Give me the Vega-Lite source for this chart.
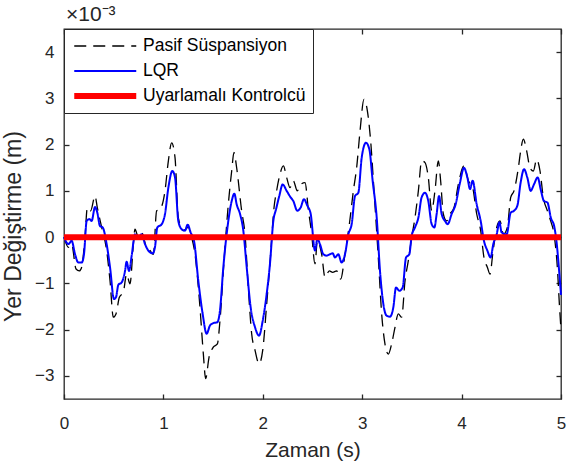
{
  "$schema": "https://vega.github.io/schema/vega-lite/v6.json",
  "autosize": {"type": "none"},
  "width": 497,
  "height": 370,
  "padding": {"left": 64, "top": 29, "right": 7, "bottom": 69},
  "background": "white",
  "title": {"text": "×10⁻³", "anchor": "start", "frame": "group", "offset": 3, "dx": 2, "fontSize": 21, "fontWeight": "normal", "color": "#262626", "font": "Liberation Sans"},
  "datasets": {
    "pasif": [
      {"t":0,"y":0},{"t":0.044,"y":-0.22},{"t":0.077,"y":-0.15},{"t":0.121,"y":-0.69},{"t":0.154,"y":-0.73},{"t":0.178,"y":-0.65},{"t":0.211,"y":0},{"t":0.235,"y":0.64},{"t":0.268,"y":0.57},{"t":0.312,"y":0.89},{"t":0.335,"y":0.64},{"t":0.379,"y":0.21},{"t":0.429,"y":-0.29},{"t":0.463,"y":-0.94},{"t":0.496,"y":-1.73},{"t":0.523,"y":-1.66},{"t":0.557,"y":-1.3},{"t":0.597,"y":-1.19},{"t":0.63,"y":-0.8},{"t":0.664,"y":-1.01},{"t":0.698,"y":-0.15},{"t":0.714,"y":0.17},{"t":0.748,"y":0},{"t":0.781,"y":0.1},{"t":0.825,"y":-0.19},{"t":0.865,"y":-0.29},{"t":0.899,"y":-0.37},{"t":0.932,"y":0.57},{"t":0.966,"y":0.6},{"t":1.016,"y":1.0},{"t":1.05,"y":1.65},{"t":1.083,"y":2.04},{"t":1.117,"y":1.72},{"t":1.15,"y":0.42},{"t":1.201,"y":0.14},{"t":1.251,"y":0.21},{"t":1.284,"y":0},{"t":1.318,"y":-0.37},{"t":1.368,"y":-1.52},{"t":1.402,"y":-2.53},{"t":1.425,"y":-3.06},{"t":1.459,"y":-2.6},{"t":1.502,"y":-2.38},{"t":1.543,"y":-2.31},{"t":1.569,"y":-1.81},{"t":1.61,"y":-0.51},{"t":1.653,"y":0.71},{"t":1.687,"y":1.43},{"t":1.71,"y":1.83},{"t":1.737,"y":1.5},{"t":1.787,"y":0.57},{"t":1.821,"y":0.06},{"t":1.854,"y":-1.09},{"t":1.888,"y":-2.09},{"t":1.922,"y":-2.45},{"t":1.962,"y":-2.74},{"t":1.999,"y":-2.45},{"t":2.039,"y":-1.45},{"t":2.079,"y":-0.37},{"t":2.113,"y":0.64},{"t":2.139,"y":1.0},{"t":2.173,"y":1.36},{"t":2.207,"y":1.54},{"t":2.24,"y":1.29},{"t":2.274,"y":1.07},{"t":2.307,"y":1.22},{"t":2.347,"y":1.0},{"t":2.381,"y":1.14},{"t":2.425,"y":1.18},{"t":2.458,"y":0.6},{"t":2.49,"y":0.1},{"t":2.525,"y":-0.58},{"t":2.549,"y":-0.08},{"t":2.592,"y":-0.37},{"t":2.626,"y":-0.87},{"t":2.669,"y":-0.73},{"t":2.703,"y":-0.76},{"t":2.743,"y":-0.73},{"t":2.783,"y":-0.91},{"t":2.827,"y":-0.37},{"t":2.871,"y":0.28},{"t":2.911,"y":1.0},{"t":2.944,"y":1.5},{"t":2.978,"y":2.29},{"t":3.018,"y":2.98},{"t":3.052,"y":2.73},{"t":3.085,"y":2.08},{"t":3.119,"y":1.0},{"t":3.162,"y":-0.44},{"t":3.196,"y":-1.66},{"t":3.229,"y":-2.31},{"t":3.263,"y":-2.53},{"t":3.296,"y":-2.31},{"t":3.33,"y":-1.95},{"t":3.363,"y":-1.66},{"t":3.397,"y":-1.73},{"t":3.431,"y":-0.94},{"t":3.464,"y":-0.51},{"t":3.498,"y":0},{"t":3.531,"y":0.42},{"t":3.565,"y":1.0},{"t":3.598,"y":1.65},{"t":3.632,"y":1.61},{"t":3.665,"y":1.29},{"t":3.699,"y":0.57},{"t":3.732,"y":1.0},{"t":3.766,"y":1.65},{"t":3.789,"y":1.22},{"t":3.816,"y":0.5},{"t":3.85,"y":0.35},{"t":3.883,"y":0.5},{"t":3.924,"y":0.64},{"t":3.967,"y":1.14},{"t":4.024,"y":1.54},{"t":4.068,"y":1.22},{"t":4.111,"y":1.07},{"t":4.152,"y":0.5},{"t":4.192,"y":0.14},{"t":4.225,"y":-0.44},{"t":4.259,"y":-0.65},{"t":4.286,"y":-0.8},{"t":4.313,"y":-0.37},{"t":4.353,"y":0.21},{"t":4.386,"y":0.35},{"t":4.42,"y":0.06},{"t":4.46,"y":0.21},{"t":4.494,"y":0.86},{"t":4.527,"y":1.0},{"t":4.571,"y":1.5},{"t":4.594,"y":1.86},{"t":4.621,"y":2.12},{"t":4.655,"y":1.86},{"t":4.688,"y":1.5},{"t":4.722,"y":1.43},{"t":4.755,"y":1.68},{"t":4.789,"y":1.43},{"t":4.822,"y":0.86},{"t":4.863,"y":0.57},{"t":4.896,"y":0.35},{"t":4.93,"y":0.06},{"t":4.963,"y":-0.65},{"t":4.985,"y":-1.5},{"t":5.0,"y":-2.0}
    ],
    "lqr": [
      {"t":0,"y":0},{"t":0.044,"y":-0.15},{"t":0.077,"y":-0.08},{"t":0.111,"y":-0.37},{"t":0.144,"y":-0.55},{"t":0.178,"y":-0.55},{"t":0.201,"y":-0.37},{"t":0.228,"y":0.35},{"t":0.255,"y":0.39},{"t":0.278,"y":0.35},{"t":0.312,"y":0.65},{"t":0.335,"y":0.53},{"t":0.362,"y":0.24},{"t":0.389,"y":0.21},{"t":0.429,"y":-0.15},{"t":0.463,"y":-0.65},{"t":0.503,"y":-1.34},{"t":0.523,"y":-1.3},{"t":0.547,"y":-1.03},{"t":0.58,"y":-0.98},{"t":0.614,"y":-0.73},{"t":0.63,"y":-0.53},{"t":0.654,"y":-0.73},{"t":0.681,"y":-0.4},{"t":0.714,"y":0.06},{"t":0.748,"y":0},{"t":0.781,"y":0.06},{"t":0.815,"y":-0.15},{"t":0.848,"y":-0.29},{"t":0.892,"y":-0.35},{"t":0.915,"y":-0.22},{"t":0.939,"y":0.21},{"t":0.983,"y":0.28},{"t":1.016,"y":0.5},{"t":1.05,"y":1.07},{"t":1.09,"y":1.43},{"t":1.117,"y":1.29},{"t":1.15,"y":0.35},{"t":1.184,"y":0.17},{"t":1.217,"y":0.14},{"t":1.244,"y":0.27},{"t":1.274,"y":0.1},{"t":1.308,"y":-0.08},{"t":1.351,"y":-0.94},{"t":1.395,"y":-1.66},{"t":1.435,"y":-2.09},{"t":1.469,"y":-1.91},{"t":1.502,"y":-1.86},{"t":1.543,"y":-1.84},{"t":1.569,"y":-1.59},{"t":1.603,"y":-0.65},{"t":1.653,"y":0.35},{"t":1.687,"y":0.78},{"t":1.714,"y":0.94},{"t":1.737,"y":0.71},{"t":1.771,"y":0.5},{"t":1.804,"y":0.14},{"t":1.838,"y":-0.65},{"t":1.878,"y":-1.52},{"t":1.922,"y":-1.95},{"t":1.962,"y":-2.13},{"t":1.999,"y":-1.81},{"t":2.039,"y":-1.23},{"t":2.072,"y":-0.58},{"t":2.106,"y":0.35},{"t":2.133,"y":0.6},{"t":2.166,"y":0.89},{"t":2.2,"y":1.14},{"t":2.24,"y":1.0},{"t":2.28,"y":0.86},{"t":2.307,"y":0.78},{"t":2.347,"y":0.57},{"t":2.381,"y":0.64},{"t":2.414,"y":0.82},{"t":2.448,"y":0.68},{"t":2.482,"y":0.5},{"t":2.525,"y":-0.29},{"t":2.549,"y":-0.04},{"t":2.575,"y":-0.15},{"t":2.609,"y":-0.37},{"t":2.643,"y":-0.4},{"t":2.676,"y":-0.37},{"t":2.703,"y":-0.35},{"t":2.726,"y":-0.44},{"t":2.76,"y":-0.37},{"t":2.793,"y":-0.55},{"t":2.827,"y":-0.37},{"t":2.861,"y":0.06},{"t":2.894,"y":0.28},{"t":2.928,"y":0.89},{"t":2.961,"y":0.96},{"t":2.995,"y":1.72},{"t":3.038,"y":2.04},{"t":3.072,"y":1.9},{"t":3.105,"y":1.22},{"t":3.146,"y":0.42},{"t":3.179,"y":-0.73},{"t":3.213,"y":-1.45},{"t":3.246,"y":-1.7},{"t":3.28,"y":-1.72},{"t":3.313,"y":-1.52},{"t":3.34,"y":-1.09},{"t":3.374,"y":-1.16},{"t":3.407,"y":-1.09},{"t":3.441,"y":-0.44},{"t":3.474,"y":-0.37},{"t":3.498,"y":0.03},{"t":3.531,"y":0.21},{"t":3.565,"y":0.42},{"t":3.598,"y":0.86},{"t":3.632,"y":0.96},{"t":3.665,"y":0.78},{"t":3.699,"y":0.28},{"t":3.726,"y":0.21},{"t":3.749,"y":0.5},{"t":3.773,"y":0.89},{"t":3.799,"y":0.5},{"t":3.833,"y":0.35},{"t":3.86,"y":0.28},{"t":3.9,"y":0.5},{"t":3.94,"y":0.71},{"t":3.984,"y":1.18},{"t":4.024,"y":1.5},{"t":4.058,"y":1.29},{"t":4.085,"y":1.04},{"t":4.111,"y":1.22},{"t":4.152,"y":0.71},{"t":4.192,"y":0.35},{"t":4.225,"y":-0.08},{"t":4.259,"y":-0.29},{"t":4.292,"y":-0.44},{"t":4.319,"y":-0.15},{"t":4.353,"y":0.06},{"t":4.38,"y":0.32},{"t":4.403,"y":0.1},{"t":4.453,"y":0.06},{"t":4.494,"y":0.53},{"t":4.527,"y":0.57},{"t":4.561,"y":0.68},{"t":4.594,"y":1.18},{"t":4.628,"y":1.47},{"t":4.661,"y":1.29},{"t":4.695,"y":1.0},{"t":4.728,"y":1.14},{"t":4.765,"y":1.29},{"t":4.799,"y":1.0},{"t":4.829,"y":0.78},{"t":4.863,"y":0.75},{"t":4.9,"y":0.4},{"t":4.93,"y":0.25},{"t":4.955,"y":-0.1},{"t":4.98,"y":-0.7},{"t":5.0,"y":-1.25}
    ],
    "uyar": [
      {"t":0,"y":0},{"t":0.5,"y":0},{"t":1,"y":0},{"t":1.5,"y":0},{"t":2,"y":0},{"t":2.5,"y":0},{"t":3,"y":0},{"t":3.5,"y":0},{"t":4,"y":0},{"t":4.5,"y":0},{"t":5,"y":0}
    ]
  },
  "layer": [
    {
      "data": {"name": "pasif"},
      "mark": {"type": "line", "interpolate": "monotone", "strokeWidth": 1.3},
      "encoding": {
        "x": {"field": "t", "type": "quantitative", "scale": {"domain": [0, 5], "nice": false},
              "axis": {"orient": "bottom", "values": [0,1,2,3,4,5], "title": "Zaman (s)", "labelPadding": 21, "titlePadding": 8, "labelFlush": false}},
        "y": {"field": "y", "type": "quantitative", "scale": {"domain": [-3.5, 4.5], "nice": false, "zero": false},
              "axis": {"orient": "left", "values": [-3,-2,-1,0,1,2,3,4], "title": "Yer Değiştirme (m)", "labelPadding": 15, "titlePadding": 9, "titleFontSize": 23, "titleY": 197}},
        "color": {"datum": "Pasif Süspansiyon", "type": "nominal", "scale": {"domain": ["Pasif Süspansiyon", "LQR", "Uyarlamalı Kontrolcü"], "range": ["#000000", "#0000ff", "#ff0000"]},
                  "legend": {"title": null, "encode": {"symbols": {"update": {"strokeWidth": {"signal": "datum.value === 'Uyarlamalı Kontrolcü' ? 6 : datum.value === 'LQR' ? 2 : 1.3"}}}}}},
        "strokeDash": {"datum": "Pasif Süspansiyon", "type": "nominal", "scale": {"domain": ["Pasif Süspansiyon", "LQR", "Uyarlamalı Kontrolcü"], "range": [[12, 7], [1, 0], [1, 0]]}, "legend": {"title": null}}
      }
    },
    {
      "data": {"name": "lqr"},
      "mark": {"type": "line", "interpolate": "monotone", "strokeWidth": 2},
      "encoding": {
        "x": {"field": "t", "type": "quantitative", "axis": {"orient": "top", "values": [0,1,2,3,4,5], "labels": false, "title": null}},
        "y": {"field": "y", "type": "quantitative", "axis": {"orient": "right", "values": [-3,-2,-1,0,1,2,3,4], "labels": false, "title": null}},
        "color": {"datum": "LQR", "type": "nominal", "legend": {"title": null}},
        "strokeDash": {"datum": "LQR", "type": "nominal", "legend": {"title": null}}
      }
    },
    {
      "data": {"name": "uyar"},
      "mark": {"type": "line", "strokeWidth": 6},
      "encoding": {
        "x": {"field": "t", "type": "quantitative", "axis": null},
        "y": {"field": "y", "type": "quantitative", "axis": null},
        "color": {"datum": "Uyarlamalı Kontrolcü", "type": "nominal", "legend": {"title": null}},
        "strokeDash": {"datum": "Uyarlamalı Kontrolcü", "type": "nominal", "legend": {"title": null}}
      }
    }
  ],
  "resolve": {"axis": {"x": "independent", "y": "independent"}},
  "config": {
    "font": "Liberation Sans",
    "view": {"stroke": "#262626", "strokeWidth": 1.3},
    "axis": {"grid": false, "domain": false, "labelColor": "#262626", "titleColor": "#262626", "tickColor": "#262626", "labelFont": "Liberation Sans", "titleFont": "Liberation Sans", "titleFontWeight": "normal", "labelFontSize": 17, "titleFontSize": 21, "tickSize": -5, "tickWidth": 1.3},
    "legend": {"orient": "top-left", "offset": 0, "padding": 7, "fillColor": "white", "strokeColor": "#262626", "labelFontSize": 17.5, "labelFont": "Liberation Sans", "labelColor": "#000000", "symbolType": "stroke", "symbolSize": 3844, "clipHeight": 20, "rowPadding": 5, "labelOffset": 29, "symbolOffset": 25.5, "labelLimit": 300}
  }
}
